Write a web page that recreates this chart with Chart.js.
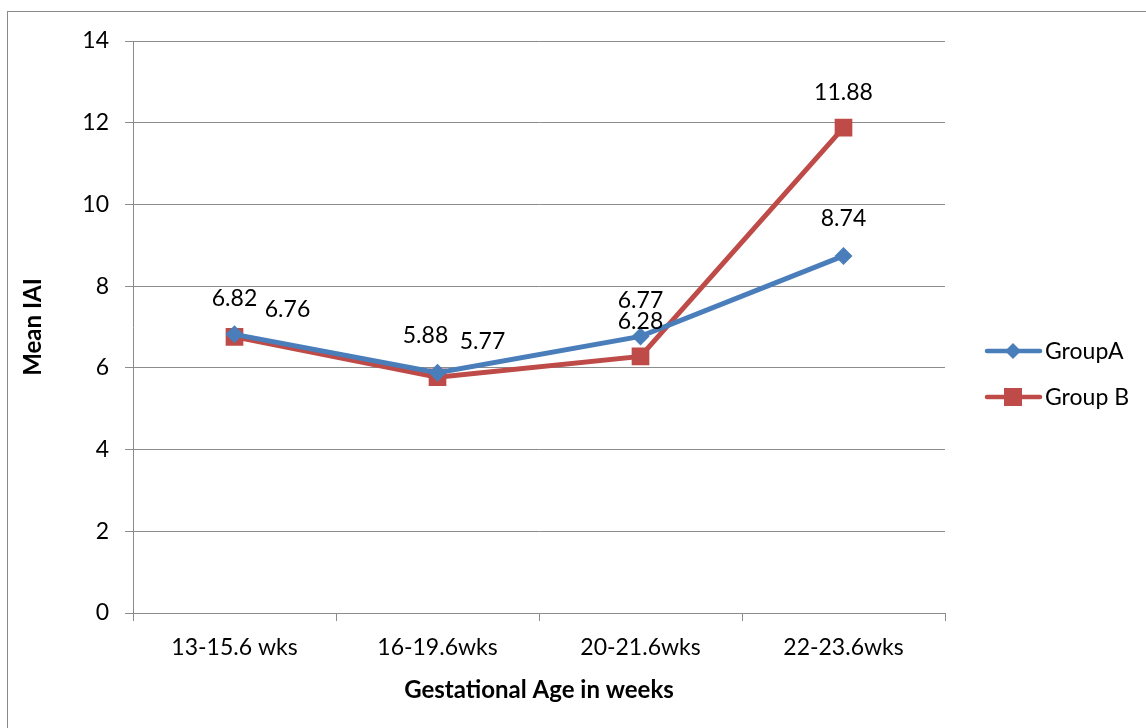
<!DOCTYPE html>
<html>
<head>
<meta charset="utf-8">
<script src="https://cdn.jsdelivr.net/npm/chart.js@4.4.1/dist/chart.umd.min.js"></script>
<style>
  html, body { margin: 0; padding: 0; background: #ffffff; }
  #wrap { width: 1146px; height: 728px; position: relative; }
</style>
</head>
<body>
<div id="wrap"><canvas id="chart" width="1146" height="728"></canvas></div>
<script>
// Gestational age bins
const categories = ['13-15.6 wks', '16-19.6wks', '20-21.6wks', '22-23.6wks'];
// Mean IAI per group
const groupA = [6.82, 5.88, 6.77, 8.74];
const groupB = [6.76, 5.77, 6.28, 11.88];
// Y-axis tick values
const yTicks = [0, 2, 4, 6, 8, 10, 12, 14];
const seriesNames = ['GroupA', 'Group B'];

const FONT = 'Lato, "Open Sans", "Liberation Sans", sans-serif';
const BLUE = '#4A7EBB';
const RED = '#BE4B48';
const GRID = '#8c8c8c';
const TEXT_SIZE = 23;

// Label offsets (px) relative to each point, per series
const labelOffsetA = [[0, -36], [-12, -37], [0, -36], [0, -37]];
const labelOffsetB = [[53, -27], [45, -36], [0, -35], [0, -35]];

const decor = {
  id: 'decor',
  beforeDraw(chart) {
    const ctx = chart.ctx;
    ctx.save();
    ctx.fillStyle = '#ffffff';
    ctx.fillRect(0, 0, chart.width, chart.height);
    ctx.strokeStyle = '#8a8a8a';
    ctx.lineWidth = 1;
    ctx.strokeRect(7.5, 11.5, chart.width + 20, chart.height + 20);
    ctx.restore();
  },
  afterDatasetsDraw(chart) {
    const ctx = chart.ctx;
    const area = chart.chartArea;
    ctx.save();
    ctx.fillStyle = '#000000';
    ctx.textAlign = 'center';
    ctx.textBaseline = 'middle';
    ctx.font = TEXT_SIZE + 'px ' + FONT;
    const offs = [labelOffsetA, labelOffsetB];
    chart.data.datasets.forEach((ds, di) => {
      const meta = chart.getDatasetMeta(di);
      meta.data.forEach((pt, i) => {
        const o = offs[di][i];
        ctx.fillText(ds.data[i].toFixed(2), pt.x + o[0], pt.y + o[1]);
      });
    });

    // axis titles
    ctx.font = 'bold 24px ' + FONT;
    ctx.fillText('Gestational Age in weeks', (area.left + area.right) / 2, 690);
    ctx.save();
    ctx.translate(33, (area.top + area.bottom) / 2);
    ctx.rotate(-Math.PI / 2);
    ctx.fillText('Mean IAI', 0, 0);
    ctx.restore();

    // legend
    const items = [
      { name: seriesNames[0], color: BLUE, style: 'diamond', y: 351 },
      { name: seriesNames[1], color: RED, style: 'square', y: 397 }
    ];
    ctx.textAlign = 'left';
    ctx.font = TEXT_SIZE + 'px ' + FONT;
    items.forEach(it => {
      ctx.strokeStyle = it.color;
      ctx.lineWidth = 4.5;
      ctx.lineCap = 'round';
      ctx.beginPath();
      ctx.moveTo(987, it.y);
      ctx.lineTo(1040, it.y);
      ctx.stroke();
      ctx.fillStyle = it.color;
      ctx.beginPath();
      if (it.style === 'diamond') {
        ctx.moveTo(1013, it.y - 8);
        ctx.lineTo(1021, it.y);
        ctx.lineTo(1013, it.y + 8);
        ctx.lineTo(1005, it.y);
        ctx.closePath();
      } else {
        ctx.rect(1004, it.y - 9, 18, 18);
      }
      ctx.fill();
      ctx.fillStyle = '#000000';
      ctx.fillText(it.name, 1045, it.y + 1);
    });
    ctx.restore();
  }
};

new Chart(document.getElementById('chart'), {
  type: 'line',
  data: {
    labels: categories,
    datasets: [
      {
        label: seriesNames[0],
        data: groupA,
        borderColor: BLUE,
        backgroundColor: BLUE,
        borderWidth: 5,
        pointStyle: 'rectRot',
        pointRadius: 9,
        pointBorderWidth: 0,
        pointBackgroundColor: BLUE,
        tension: 0
      },
      {
        label: seriesNames[1],
        data: groupB,
        borderColor: RED,
        backgroundColor: RED,
        borderWidth: 5,
        pointStyle: 'rect',
        pointRadius: 12.5,
        pointBorderWidth: 0,
        pointBackgroundColor: RED,
        tension: 0
      }
    ]
  },
  options: {
    responsive: false,
    animation: false,
    devicePixelRatio: 1,
    layout: { padding: { top: 41, right: 201, left: 0, bottom: 0 } },
    plugins: {
      legend: { display: false },
      tooltip: { enabled: false }
    },
    scales: {
      x: {
        offset: true,
        grid: {
          offset: true,
          drawOnChartArea: false,
          drawTicks: true,
          tickLength: 8,
          color: GRID,
          lineWidth: 1
        },
        border: { display: true, color: GRID, width: 1 },
        ticks: {
          color: '#000000',
          font: { family: FONT, size: TEXT_SIZE },
          padding: 13,
          maxRotation: 0
        },
        afterFit(scale) { scale.height = 115; }
      },
      y: {
        min: 0,
        max: 14,
        afterBuildTicks(scale) { scale.ticks = yTicks.map(v => ({ value: v })); },
        grid: {
          color: GRID,
          lineWidth: 1,
          drawTicks: true,
          tickLength: 8
        },
        border: { display: true, color: GRID, width: 1 },
        ticks: {
          color: '#000000',
          font: { family: FONT, size: TEXT_SIZE },
          padding: 16
        },
        afterFit(scale) { scale.width = 133; }
      }
    }
  },
  plugins: [decor]
});
</script>
</body>
</html>
